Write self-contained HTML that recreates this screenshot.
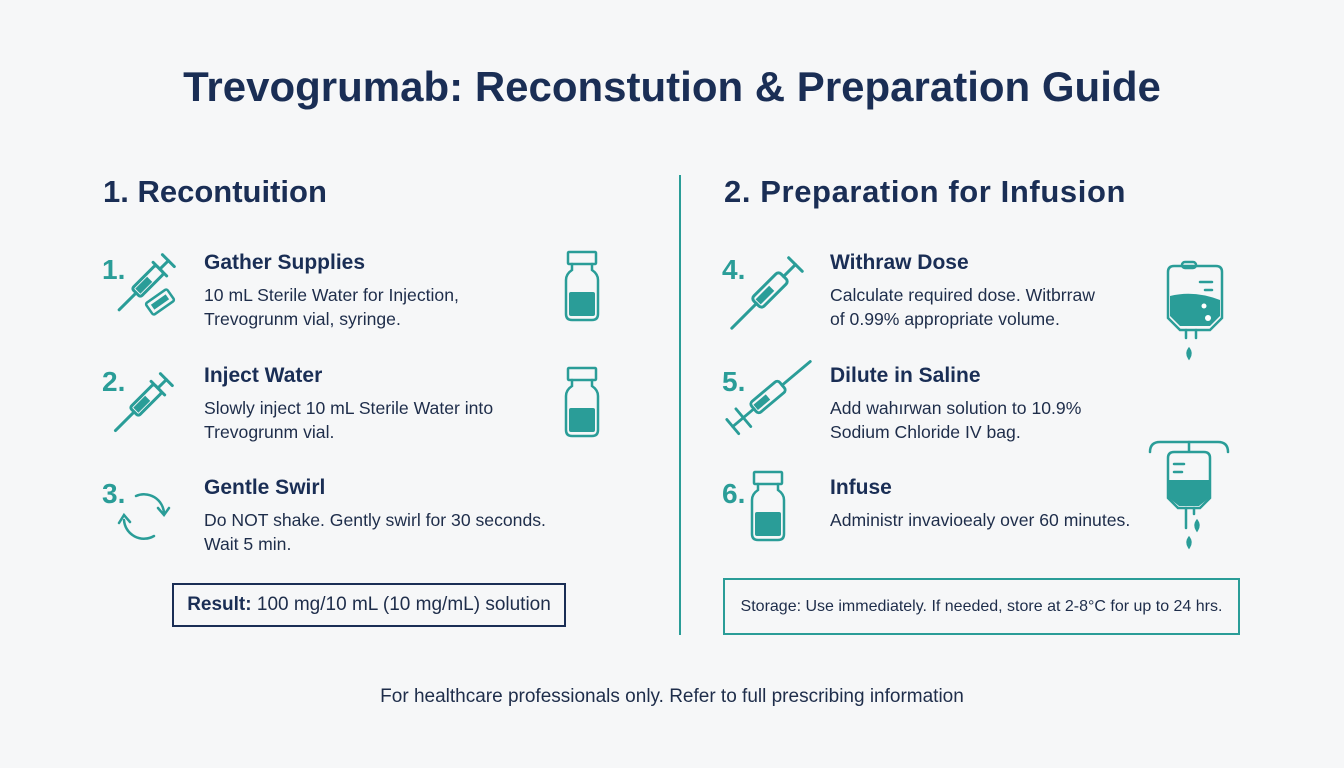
<!DOCTYPE html>
<html><head><meta charset="utf-8"><style>
body{margin:0;width:1344px;height:768px;background:#f6f7f8;font-family:"Liberation Sans",Arial,sans-serif;color:#1a2e55;position:relative;overflow:hidden}
.a{position:absolute;white-space:nowrap}
.t{font-weight:bold;font-size:42px;left:0;width:1344px;text-align:center;top:63px}
.h{font-weight:bold;font-size:31px}
.n{font-weight:bold;font-size:28px;color:#2a9d98}
.st{font-weight:bold;font-size:21px}
.b{font-size:17.6px;line-height:24px;color:#1e2d4a}
svg{position:absolute}
</style></head><body>
<div class="a t">Trevogrumab: Reconstution &amp; Preparation Guide</div>
<div class="a h" style="left:103px;top:174px">1. Recontuition</div>
<div class="a h" style="left:724px;top:174px;letter-spacing:0.6px">2. Preparation for Infusion</div>
<div class="a" style="left:679px;top:175px;width:2px;height:460px;background:#2a9d98"></div>

<div class="a n" style="left:102px;top:254px">1.</div>
<div class="a n" style="left:102px;top:366px">2.</div>
<div class="a n" style="left:102px;top:478px">3.</div>
<div class="a n" style="left:722px;top:254px">4.</div>
<div class="a n" style="left:722px;top:366px">5.</div>
<div class="a n" style="left:722px;top:478px">6.</div>

<div class="a st" style="left:204px;top:251px">Gather Supplies</div>
<div class="a b" style="left:204px;top:283px">10 mL Sterile Water for Injection,<br>Trevogrunm vial, syringe.</div>
<div class="a st" style="left:204px;top:364px">Inject Water</div>
<div class="a b" style="left:204px;top:396px">Slowly inject 10 mL Sterile Water into<br>Trevogrunm vial.</div>
<div class="a st" style="left:204px;top:476px">Gentle Swirl</div>
<div class="a b" style="left:204px;top:508px">Do NOT shake. Gently swirl for 30 seconds.<br>Wait 5 min.</div>

<div class="a st" style="left:830px;top:251px">Withraw Dose</div>
<div class="a b" style="left:830px;top:283px">Calculate required dose. Witbrraw<br>of 0.99% appropriate volume.</div>
<div class="a st" style="left:830px;top:364px">Dilute in Saline</div>
<div class="a b" style="left:830px;top:396px">Add wahırwan solution to 10.9%<br>Sodium Chloride IV bag.</div>
<div class="a st" style="left:830px;top:476px">Infuse</div>
<div class="a b" style="left:830px;top:508px">Administr invavioealy over 60 minutes.</div>

<div class="a" style="left:172px;top:583px;width:394px;height:44px;border:2px solid #1a2e55;box-sizing:border-box;font-size:19px;line-height:40px;text-align:center;color:#1e2d4a"><b style="color:#1a2e55">Result:</b> 100 mg/10 mL (10 mg/mL) solution</div>
<div class="a" style="left:723px;top:578px;width:517px;height:57px;border:2px solid #2a9d98;box-sizing:border-box;font-size:16px;line-height:53px;text-align:center;color:#1e2d4a">Storage: Use immediately. If needed, store at 2-8°C for up to 24 hrs.</div>
<div class="a" style="left:0;width:1344px;text-align:center;top:686px;font-size:19px;color:#1e2d4a">For healthcare professionals only. Refer to full prescribing information</div>

<svg width="1344" height="768" style="left:0;top:0" fill="none" stroke="#2a9d98" stroke-width="2.5" stroke-linecap="round">
<g transform="translate(148,281) rotate(-45) scale(1.2)"><rect x="-14" y="-5" width="28" height="10" rx="2"/><rect x="-12" y="-3" width="14" height="6" fill="#2a9d98" stroke="none"/><line x1="-14" y1="0" x2="-34" y2="0"/><line x1="14" y1="0" x2="24" y2="0"/><line x1="24" y1="-7" x2="24" y2="7"/><line x1="14" y1="-8" x2="14" y2="8"/></g>
<g transform="translate(160,302) rotate(-35)"><rect x="-13" y="-7" width="26" height="14" rx="2"/><rect x="-9" y="-3" width="18" height="6" fill="#2a9d98" stroke="none"/></g>
<g transform="translate(146,400) rotate(-45) scale(1.2)"><rect x="-14" y="-5" width="28" height="10" rx="2"/><rect x="-12" y="-3" width="14" height="6" fill="#2a9d98" stroke="none"/><line x1="-14" y1="0" x2="-36" y2="0"/><line x1="14" y1="0" x2="24" y2="0"/><line x1="24" y1="-7" x2="24" y2="7"/><line x1="14" y1="-8" x2="14" y2="8"/></g>
<g transform="translate(770,290) rotate(-45) scale(1.2)"><rect x="-16" y="-6" width="32" height="12" rx="3"/><rect x="-14" y="-3" width="16" height="6" fill="#2a9d98" stroke="none"/><line x1="-16" y1="0" x2="-45" y2="0"/><line x1="16" y1="0" x2="30" y2="0"/><line x1="30" y1="-8" x2="30" y2="8"/></g>
<g transform="translate(768,397) rotate(-40) scale(1.15)"><rect x="-16" y="-6" width="32" height="12" rx="3"/><rect x="-14" y="-3" width="14" height="6" fill="#2a9d98" stroke="none"/><line x1="16" y1="0" x2="48" y2="0"/><line x1="-16" y1="0" x2="-40" y2="0"/><line x1="-28" y1="-10" x2="-28" y2="10"/><line x1="-40" y1="-8" x2="-40" y2="8"/></g>
<path d="M136 496 A20 20 0 0 1 164 513"/><path d="M158 508 l6 7 l5 -7"/>
<path d="M154 536 A20 20 0 0 1 124 520"/><path d="M119 523 l5 -8 l6 7"/>
<g><rect x="568" y="252" width="28" height="12" rx="1"/><path d="M572 264 v6 q-6 4 -6 10 v34 q0 6 6 6 h20 q6 0 6 -6 v-34 q0 -6 -6 -10 v-6"/><rect x="569" y="292" width="26" height="24" rx="2" fill="#2a9d98" stroke="none"/></g>
<g><rect x="568" y="368" width="28" height="12" rx="1"/><path d="M572 380 v6 q-6 4 -6 10 v34 q0 6 6 6 h20 q6 0 6 -6 v-34 q0 -6 -6 -10 v-6"/><rect x="569" y="408" width="26" height="24" rx="2" fill="#2a9d98" stroke="none"/></g>
<g><rect x="754" y="472" width="28" height="12" rx="1"/><path d="M758 484 v6 q-6 4 -6 10 v34 q0 6 6 6 h20 q6 0 6 -6 v-34 q0 -6 -6 -10 v-6"/><rect x="755" y="512" width="26" height="24" rx="2" fill="#2a9d98" stroke="none"/></g>
<g><path d="M1168 272 q0-6 6-6 h42 q6 0 6 6 v46 l-12 12 h-30 l-12 -12z"/><rect x="1182" y="262" width="14" height="6" rx="3"/><path d="M1170 296 q24 -6 50 4 v16 l-10 10 h-30 l-10 -10z" fill="#2a9d98" stroke="none"/><circle cx="1204" cy="306" r="2.5" fill="#fff" stroke="none"/><circle cx="1208" cy="318" r="3" fill="#fff" stroke="none"/><line x1="1200" y1="282" x2="1212" y2="282"/><line x1="1205" y1="290" x2="1212" y2="290"/><path d="M1186 330 v8 M1196 330 v8"/><path d="M1189 358 q3 -5 0 -9 q-3 4 0 9z" fill="#2a9d98"/></g>
<g><path d="M1150 452 q0-10 10-10 h58 q10 0 10 10"/><line x1="1189" y1="442" x2="1189" y2="451"/><path d="M1168 458 q0-6 6-6 h30 q6 0 6 6 v40 l-10 10 h-22 l-10-10z"/><path d="M1169 480 h40 v18 l-10 8 h-20 l-10-8z" fill="#2a9d98" stroke="none"/><line x1="1174" y1="464" x2="1184" y2="464"/><line x1="1174" y1="472" x2="1182" y2="472"/><path d="M1186 508 v20 M1194 508 v6"/><path d="M1189 547 q3 -5 0 -9 q-3 4 0 9z" fill="#2a9d98"/><path d="M1197 530 q3 -5 0 -9 q-3 4 0 9z" fill="#2a9d98"/></g>
</svg>
</body></html>
